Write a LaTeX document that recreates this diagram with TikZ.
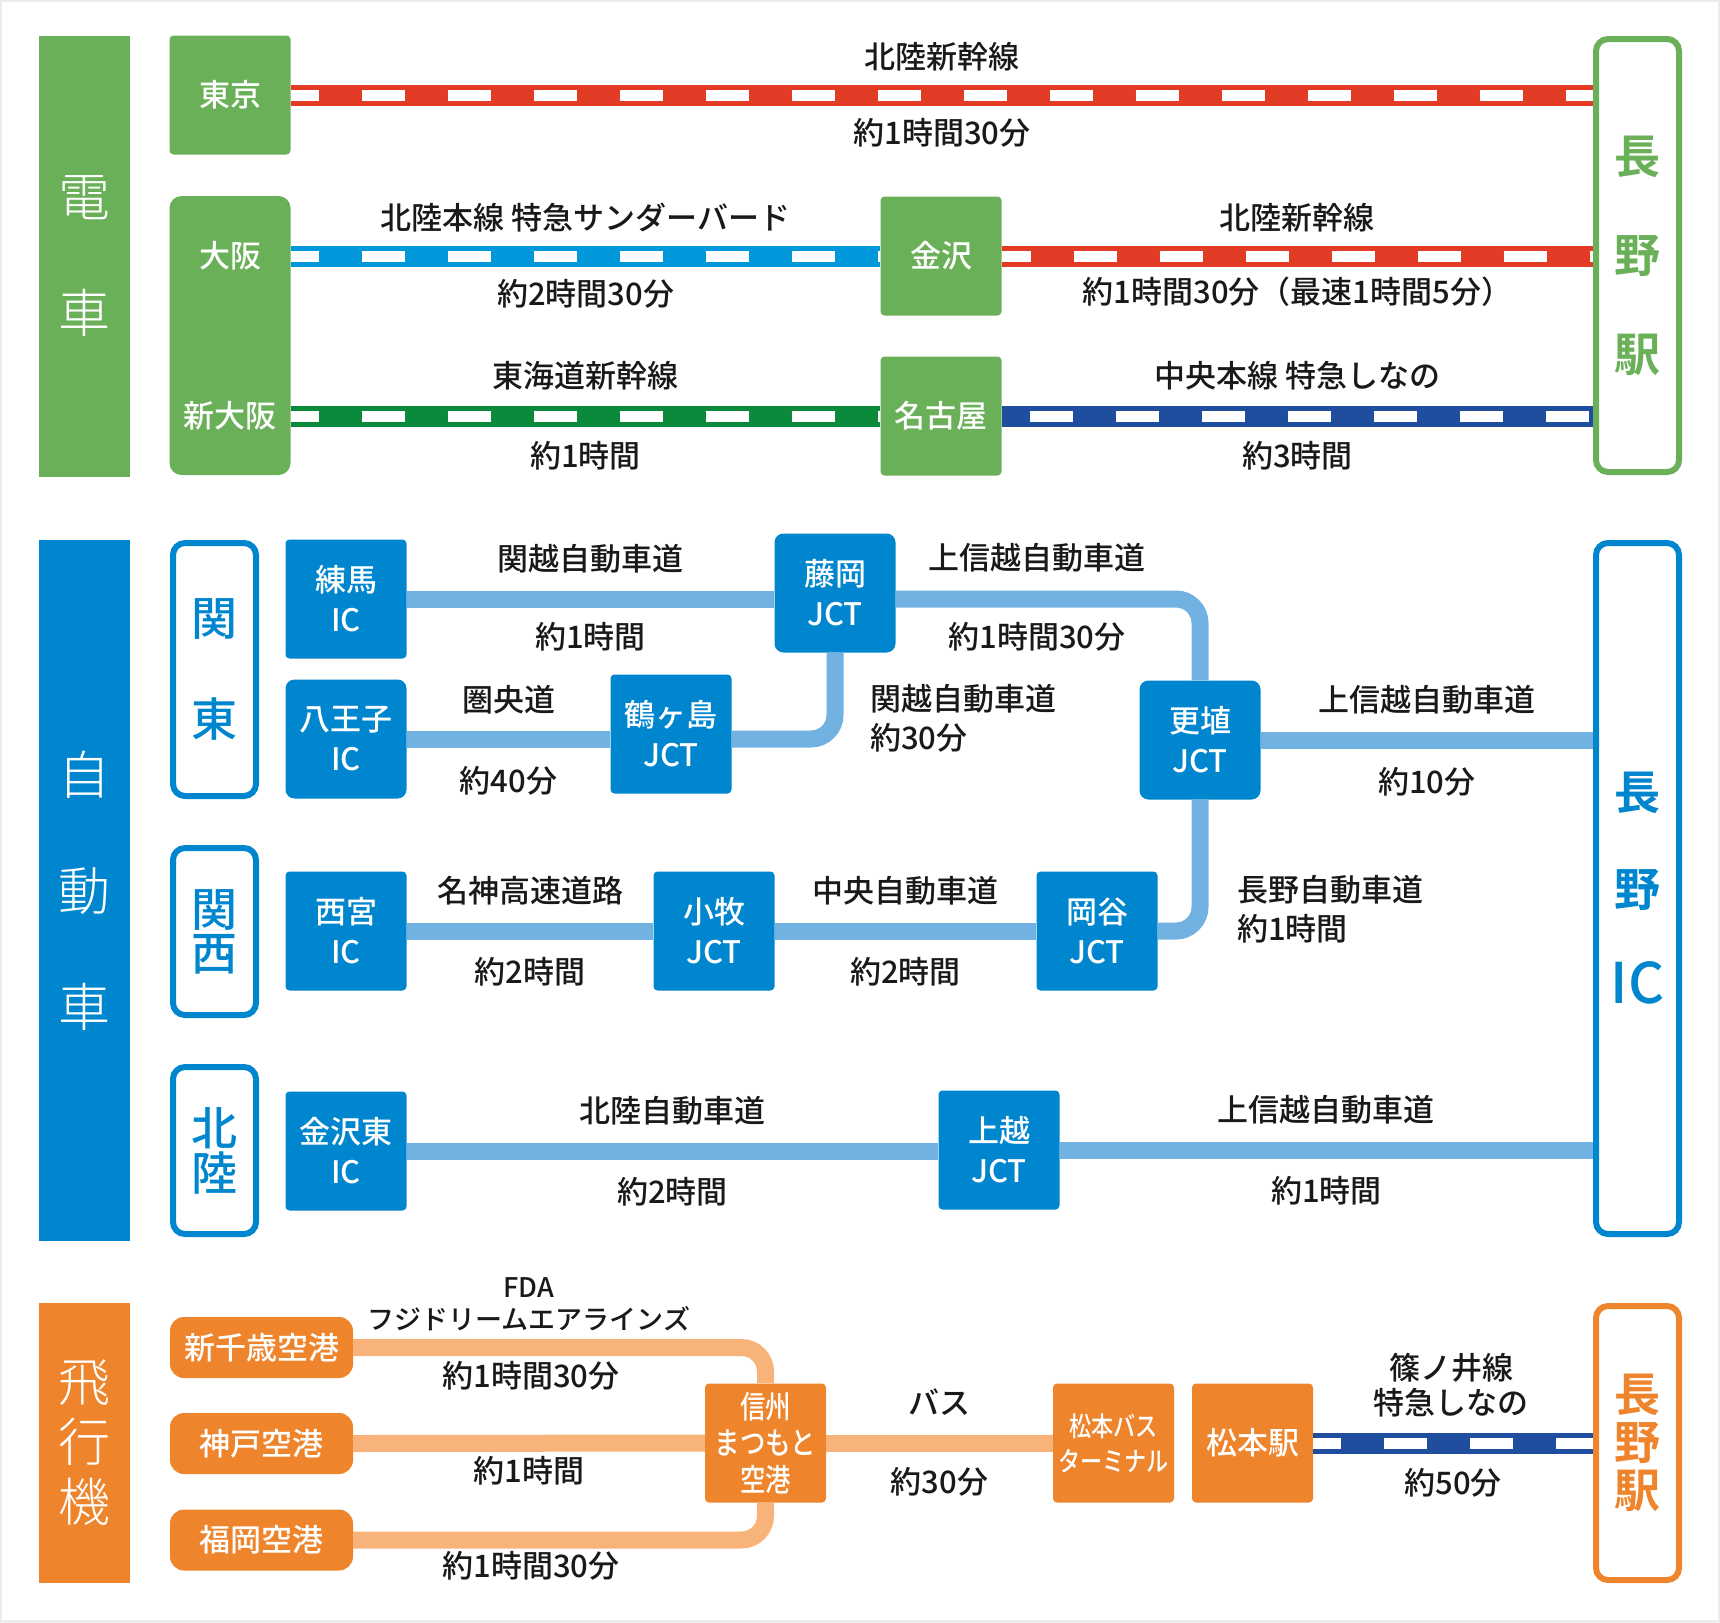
\documentclass[tikz,border=0pt]{standalone}
\usepackage{fontspec}
\setmainfont{Noto Sans CJK JP}
\IfFontExistsTF{Noto Sans CJK JP Medium}
	{\def\medname{Noto Sans CJK JP Medium}}
	{\def\medname{Noto Sans CJK JP}}
\newfontfamily\medfont{\medname}
\newfontfamily\narrowfont[FakeStretch=0.82]{\medname}
\IfFontExistsTF{Noto Sans CJK JP Light}
	{\newfontfamily\thinfont{Noto Sans CJK JP Light}}
	{\newfontfamily\thinfont{Noto Sans CJK JP}}
\IfFontExistsTF{Noto Sans CJK JP Bold}
	{\newfontfamily\heavyfont{Noto Sans CJK JP Bold}}
	{\newfontfamily\heavyfont{Noto Sans CJK JP}}
\usepackage{xcolor}
\usetikzlibrary{calc}
\definecolor{trainG}{RGB}{106,176,88}
\definecolor{railRed}{RGB}{226,59,38}
\definecolor{railCyan}{RGB}{0,152,218}
\definecolor{railGreen}{RGB}{10,138,58}
\definecolor{railNavy}{RGB}{31,78,158}
\definecolor{carB}{RGB}{0,134,206}
\definecolor{roadB}{RGB}{114,178,226}
\definecolor{planeO}{RGB}{238,132,44}
\definecolor{flightO}{RGB}{247,179,122}
\tikzset{
	lbl/.style={font=\medfont\fontsize{31}{39}\selectfont, text=black!90, align=center, inner sep=0pt},
	station/.style={fill=#1, text=white, minimum width=121pt, minimum height=119pt,
			rounded corners=4pt, inner sep=0pt, align=center, font=\medfont\fontsize{31}{40}\selectfont},
	port/.style={fill=planeO, text=white, minimum width=183pt, minimum height=61pt,
			rounded corners=14pt, inner sep=0pt, font=\medfont\fontsize{31}{40}\selectfont},
	head/.style={fill=#1, text=white, minimum width=91pt, inner sep=0pt, align=center},
	goal/.style={draw=#1, text=#1, line width=6pt, rounded corners=12pt, minimum width=83pt,
			inner sep=0pt, align=center},
	rail/.style 2 args={draw=#1, line width=21pt,
			postaction={draw=white, line width=11pt, dash pattern=on 43pt off 43pt, dash phase=#2}},
	road/.style={draw=roadB, line width=17pt, rounded corners=24pt},
	flight/.style={draw=flightO, line width=17pt, rounded corners=24pt}
}

\begin{document}
\begin{tikzpicture}[x=1pt,y=-1pt]
	\useasboundingbox (0,0) rectangle (1720,1622);
	\draw[gray!15, line width=4pt] (0,0) rectangle (1720,1622);

	%--- 電車 ---
	\node[head=trainG, minimum height=441pt, font=\thinfont\fontsize{52}{116}\selectfont] (train) at (84,256) {電\\車};
	\node[station=trainG] (tokyo) at (230,95) {東京};
	\node[station=trainG, minimum height=279pt, rounded corners=12pt] (kansai) at (230,335.5) {};
	\node[lbl, text=white] (osaka) at (230,256) {大阪};
	\node[lbl, text=white] (shinosaka) at (230,416) {新大阪};
	\node[station=trainG] (kanazawa) at (941,256) {金沢};
	\node[station=trainG] (nagoya) at (941,416) {名古屋};
	\node[goal=trainG, minimum height=433pt, font=\heavyfont\fontsize{46}{99}\selectfont] (naganoeki) at (1637.5,255.5) {長\\野\\駅};

	% rail lines
	\draw[rail={railRed}{15pt}] (tokyo.east) -- (tokyo.east -| naganoeki.west)
	node[lbl, midway, yshift=38pt] (tokyoUp) {北陸新幹線}
	node[lbl, midway, yshift=-38pt] (tokyoDn) {約1時間30分};
	\draw[rail={railCyan}{15pt}] (osaka -| kansai.east) -- (kanazawa.west)
	node[lbl, midway, yshift=38pt] (osakaUp) {北陸本線 特急サンダーバード}
	node[lbl, midway, yshift=-38pt] (osakaDn) {約2時間30分};
	\draw[rail={railRed}{14pt}] (kanazawa.east) -- (kanazawa.east -| naganoeki.west)
	node[lbl, midway, yshift=38pt] (kanazawaUp) {北陸新幹線}
	node[lbl, midway, yshift=-36pt] (kanazawaDn) {約1時間30分（最速1時間5分）};
	\draw[rail={railGreen}{15pt}] (shinosaka -| kansai.east) -- (nagoya.west)
	node[lbl, midway, yshift=40pt] (shinosakaUp) {東海道新幹線}
	node[lbl, midway, yshift=-40pt] (shinosakaDn) {約1時間};
	\draw[rail={railNavy}{58pt}] (nagoya.east) -- (nagoya.east -| naganoeki.west)
	node[lbl, midway, yshift=40pt] (nagoyaUp) {中央本線 特急しなの}
	node[lbl, midway, yshift=-40pt] (nagoyaDn) {約3時間};

	%--- 自動車 ---
	\node[head=carB, minimum height=701pt, font=\thinfont\fontsize{52}{116}\selectfont] (car) at (84,890.5) {自\\動\\車};
	\node[goal=carB, minimum height=253pt, font=\medfont\fontsize{46}{101}\selectfont] (kanto) at (214.5,669.5) {関\\東};
	\node[goal=carB, minimum height=167pt, font=\medfont\fontsize{46}{44}\selectfont] (kansaiR) at (214.5,931.5) {関\\西};
	\node[goal=carB, minimum height=167pt, font=\medfont\fontsize{46}{45}\selectfont] (hokuriku) at (214.5,1150.5) {北\\陸};
	\node[goal=carB, minimum height=691pt, font=\heavyfont\fontsize{46}{97}\selectfont] (naganoic) at (1637.5,888.5) {長\\野\\{\medfont\fontsize{56}{97}\selectfont IC}};

	\node[station=carB] (nerima) at (346,599) {練馬\\IC};
	\node[station=carB, rounded corners=9pt] (hachioji) at (346,739) {八王子\\IC};
	\node[station=carB, rounded corners=9pt] (fujioka) at (835,593) {藤岡\\JCT};
	\node[station=carB] (tsurugashima) at (671,734) {鶴ヶ島\\JCT};
	\node[station=carB, rounded corners=9pt] (kouhoku) at (1200,740) {更埴\\JCT};
	\node[station=carB] (nishinomiya) at (346,931) {西宮\\IC};
	\node[station=carB] (komaki) at (714,931) {小牧\\JCT};
	\node[station=carB] (okaya) at (1097,931) {岡谷\\JCT};
	\node[station=carB] (kanazawahigashi) at (346,1151) {金沢東\\IC};
	\node[station=carB] (joetsu) at (999,1150) {上越\\JCT};

	% expressways
	\draw[road] (nerima.east) -- (nerima.east -| fujioka.west)
	node[lbl, midway, yshift=40pt] (nerimaUp) {関越自動車道}
	node[lbl, midway, yshift=-38pt] (nerimaDn) {約1時間};
	\draw[road] (nerima.east -| fujioka.east) -| (kouhoku.north);
	\node[lbl] (fujiokaUp) at (1037,558) {上信越自動車道};
	\node[lbl] (fujiokaDn) at (1037,637) {約1時間30分};
	\draw[road] (hachioji.east) -- (hachioji.east -| tsurugashima.west)
	node[lbl, midway, yshift=39pt] (hachiojiUp) {圏央道}
	node[lbl, midway, yshift=-42pt] (hachiojiDn) {約40分};
	\draw[road] (hachioji.east -| tsurugashima.east) -| (fujioka.south);
	\node[lbl, anchor=west, align=left] (tsuruLbl) at (870,718.5) {関越自動車道\\約30分};
	\draw[road] (kouhoku.east) -- (kouhoku.east -| naganoic.west)
	node[lbl, midway, yshift=40pt] (kouhokuUp) {上信越自動車道}
	node[lbl, midway, yshift=-42pt] (kouhokuDn) {約10分};
	\draw[road] (kouhoku.south) |- (okaya.east);
	\node[lbl, anchor=west, align=left] (okayaLbl) at (1237,909.5) {長野自動車道\\約1時間};
	\draw[road] (nishinomiya.east) -- (komaki.west)
	node[lbl, midway, yshift=40pt] (meishinUp) {名神高速道路}
	node[lbl, midway, yshift=-41pt] (meishinDn) {約2時間};
	\draw[road] (komaki.east) -- (okaya.west)
	node[lbl, midway, yshift=40pt] (chuoUp) {中央自動車道}
	node[lbl, midway, yshift=-41pt] (chuoDn) {約2時間};
	\draw[road] (kanazawahigashi.east) -- (kanazawahigashi.east -| joetsu.west)
	node[lbl, midway, yshift=40pt] (hokurikuUp) {北陸自動車道}
	node[lbl, midway, yshift=-41pt] (hokurikuDn) {約2時間};
	\draw[road] (joetsu.east) -- (joetsu.east -| naganoic.west)
	node[lbl, midway, yshift=40pt] (joetsuUp) {上信越自動車道}
	node[lbl, midway, yshift=-41pt] (joetsuDn) {約1時間};

	%--- 飛行機 ---
	\node[head=planeO, minimum height=280pt, font=\thinfont\fontsize{52}{60}\selectfont] (plane) at (84,1443) {飛\\行\\機};
	\node[port] (shinchitose) at (261.5,1347.5) {新千歳空港};
	\node[port] (kobe) at (261.5,1443.5) {神戸空港};
	\node[port] (fukuoka) at (261.5,1540) {福岡空港};
	\node[station=planeO, font=\narrowfont\fontsize{31}{36.5}\selectfont] (shinshu) at (765.5,1443) {信州\\まつもと\\空港};
	\node[station=planeO, font=\narrowfont\fontsize{27}{35}\selectfont] (busterm) at (1113.5,1443) {松本バス\\ターミナル};
	\node[station=planeO] (matsumoto) at (1252.5,1443) {松本駅};
	\node[goal=planeO, minimum height=274pt, font=\heavyfont\fontsize{46}{48}\selectfont] (naganoeki2) at (1637.5,1443) {長\\野\\駅};

	% flights, bus and train
	\draw[flight] (shinchitose.east) -| (shinshu.north);
	\draw[flight] (kobe.east) -- (shinshu.west);
	\draw[flight] (fukuoka.east) -| (shinshu.south);
	\node[lbl, font=\medfont\fontsize{27}{32}\selectfont] (fdaLbl) at (529,1304) {FDA\\フジドリームエアラインズ};
	\node[lbl] (chitoseDn) at (531,1376) {約1時間30分};
	\node[lbl] (kobeDn) at (529,1471) {約1時間};
	\node[lbl] (fukuokaDn) at (531,1566) {約1時間30分};
	\draw[flight] (shinshu.east) -- (busterm.west)
	node[lbl, midway, yshift=41pt] (busUp) {バス}
	node[lbl, midway, yshift=-39pt] (busDn) {約30分};
	\draw[rail={railNavy}{15pt}] (matsumoto.east) -- (matsumoto.east -| naganoeki2.west)
	node[lbl, midway, yshift=-40pt] (shinonoiDn) {約50分};
	\node[lbl, font=\medfont\fontsize{31}{35}\selectfont] (shinonoiUp) at (1451,1385.5) {篠ノ井線\\特急しなの};
\end{tikzpicture}
\end{document}
